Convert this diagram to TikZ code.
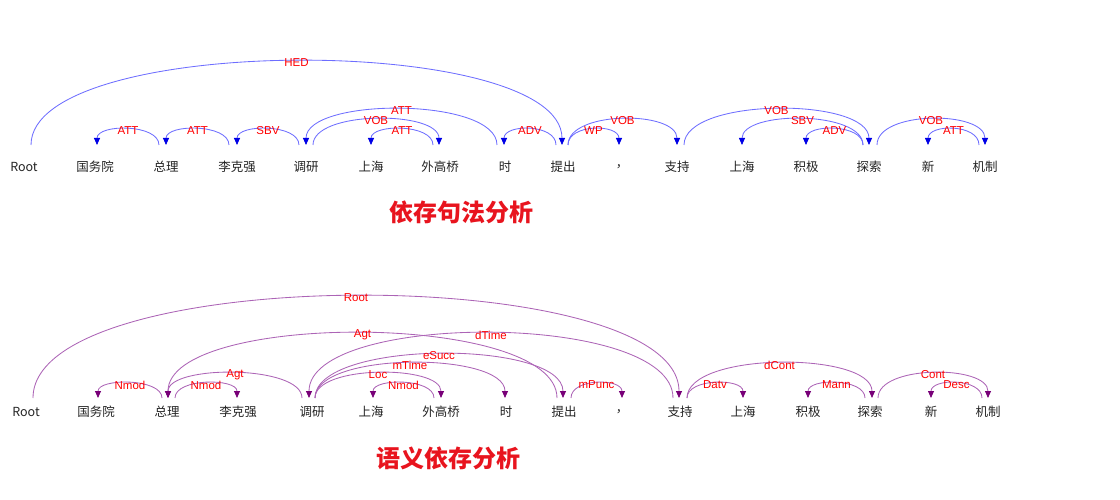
\documentclass[tikz,border=0pt]{standalone}
\usepackage{fontspec}
\newfontfamily\cjk{Noto Sans CJK SC}
\newfontfamily\lab{Liberation Sans}
\usetikzlibrary{arrows.meta,calc}

\definecolor{synline}{RGB}{110,110,255}
\definecolor{syntip}{RGB}{0,0,230}
\definecolor{semline}{RGB}{172,100,182}
\definecolor{semtip}{RGB}{120,0,120}
\definecolor{wordgray}{RGB}{35,35,35}
\definecolor{titlered}{RGB}{232,20,30}

\tikzset{
  word/.style={font=\cjk\fontsize{12.5}{14}\selectfont,text=wordgray,inner sep=0pt},
  rel/.style={font=\lab\fontsize{11.5}{13}\selectfont,text=red,inner sep=0pt},
  heading/.style={font=\cjk\bfseries\fontsize{24}{28}\selectfont,text=titlered,inner sep=0pt},
  synarc/.style={draw=synline,line width=0.85pt,-{Triangle[width=6pt,length=7pt,color=syntip]}},
  semarc/.style={draw=semline,line width=0.85pt,-{Triangle[width=6pt,length=7pt,color=semtip]}}
}

% head node, dx at head, dependent node, dx at dependent, height, label
\newcommand{\deplink}[7][]{%
  \coordinate (a) at ($(#2)+(#3,-\gap)$);
  \coordinate (b) at ($(#4)+(#5,-\gap)$);
  \draw[#1] (a) .. controls ($(a)+(0,-#6*4/3)$) and ($(b)+(0,-#6*4/3)$) .. (b);
  \node[rel] at ($(a)!0.5!(b)+(0,-#6+2)$) {#7};
}

\begin{document}
\begin{tikzpicture}[x=1pt,y=-1pt]
    \useasboundingbox (0,0) rectangle (1120,500);

    % syntactic dependencies
    \foreach \x/\w [count=\i from 0] in {24/Root,95/国务院,166/总理,237/李克强,306/调研,371/上海,440/外高桥,505/时,563/提出,622/，,677/支持,742/上海,806/积极,869/探索,928/新,985/机制}
        \node[word] (s\i) at (\x,167) {\w};

    \def\gap{22}
    \deplink[synarc]{s0}{7}{s8}{-1}{84}{HED}
    \deplink[synarc]{s2}{-7}{s1}{2}{16}{ATT}
    \deplink[synarc]{s3}{-8}{s2}{0}{16}{ATT}
    \deplink[synarc]{s4}{-7}{s3}{0}{16}{SBV}
    \deplink[synarc]{s7}{-8}{s4}{0}{36}{ATT}
    \deplink[synarc]{s4}{7}{s6}{-1}{26}{VOB}
    \deplink[synarc]{s6}{-7}{s5}{0}{16}{ATT}
    \deplink[synarc]{s8}{-7}{s7}{-1}{16}{ADV}
    \deplink[synarc]{s8}{5}{s9}{-3}{16}{WP}
    \deplink[synarc]{s8}{5}{s10}{0}{26}{VOB}
    \deplink[synarc]{s10}{7}{s13}{0}{36}{VOB}
    \deplink[synarc]{s13}{-6}{s11}{0}{26}{SBV}
    \deplink[synarc]{s13}{-6}{s12}{0}{16}{ADV}
    \deplink[synarc]{s13}{8}{s15}{0}{26}{VOB}
    \deplink[synarc]{s15}{-6}{s14}{0}{16}{ATT}

    \node[heading] (syntitle) at (461,212) {依存句法分析};

    % semantic dependencies
    \foreach \x/\w [count=\i from 0] in {26/Root,96/国务院,167/总理,238/李克强,312/调研,371/上海,441/外高桥,506/时,564/提出,622/，,680/支持,743/上海,808/积极,870/探索,931/新,988/机制}
        \node[word] (t\i) at (\x,412) {\w};

    \def\gap{14}
    \deplink[semarc]{t0}{7}{t10}{-1}{102}{Root}
    \deplink[semarc]{t2}{-5}{t1}{2}{15}{Nmod}
    \deplink[semarc]{t2}{8}{t3}{-1}{15}{Nmod}
    \deplink[semarc]{t4}{-10}{t2}{1}{25}{Agt}
    \deplink[semarc]{t8}{-7}{t2}{1}{65}{Agt}
    \deplink[semarc]{t10}{-7}{t4}{-3}{65}{dTime}
    \deplink[semarc]{t4}{3}{t6}{0}{25}{Loc}
    \deplink[semarc]{t4}{3}{t7}{-1}{35}{mTime}
    \deplink[semarc]{t4}{3}{t8}{-1}{44}{eSucc}
    \deplink[semarc]{t6}{-7}{t5}{2}{15}{Nmod}
    \deplink[semarc]{t8}{7}{t9}{0}{15}{mPunc}
    \deplink[semarc]{t10}{7}{t11}{0}{15}{Datv}
    \deplink[semarc]{t10}{7}{t13}{2}{35}{dCont}
    \deplink[semarc]{t13}{-5}{t12}{0}{15}{Mann}
    \deplink[semarc]{t13}{8}{t15}{0}{25}{Cont}
    \deplink[semarc]{t15}{-6}{t14}{0}{15}{Desc}

    \node[heading] (semtitle) at (448,458) {语义依存分析};
\end{tikzpicture}
\end{document}
